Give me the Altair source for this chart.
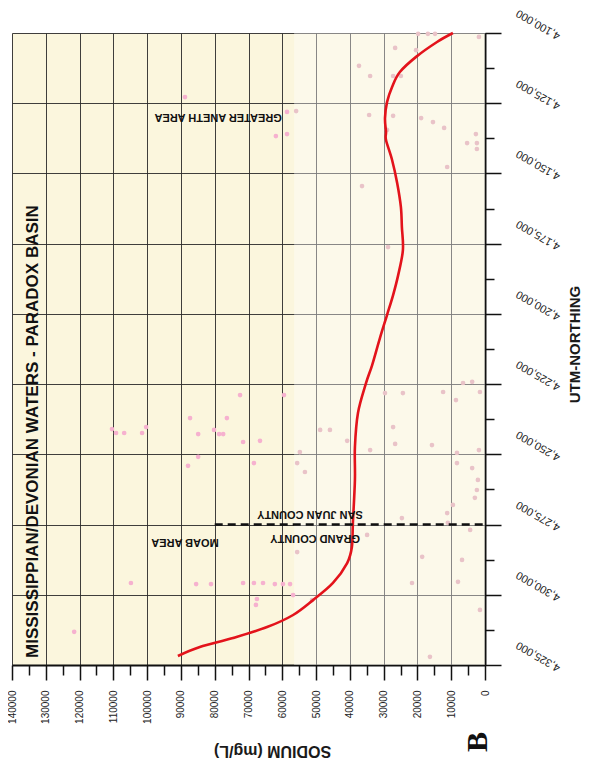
import altair as alt
import pandas as pd

# ---- data ----
curve_sodium = [9500, 14200, 20400, 25200, 27500, 29000, 29600, 29300, 29300, 27500, 26000, 24900,
                24600, 24300, 25700, 27200, 29000, 31100, 33400, 35200, 37600, 38500, 38500, 39100,
                39400, 40800, 45000, 50900, 56800, 64500, 74600, 84400, 90900]
curve_utm = [4100000, 4103200, 4108500, 4113900, 4119200, 4124600, 4130300, 4135200, 4138100, 4145200,
             4153400, 4161900, 4169100, 4177300, 4186200, 4193300, 4200400, 4208600, 4218200, 4224600,
             4235300, 4247400, 4259100, 4274400, 4283000, 4288700, 4295800, 4301900, 4307200, 4311500,
             4315400, 4318600, 4321800]

point_sodium = [19800, 16900, 14800, 1800, 26600, 20400, 37300, 34000, 27200, 24900, 55900, 58600,
                58600, 61900, 88800, 34300, 27200, 18900, 15400, 12100, 29000, 2700, 5300, 2400,
                2400, 11200, 36400, 28700, 3800,
                110400, 109200, 106800, 101500, 100300, 87300, 84900, 80200, 78700, 77500, 76400,
                72500, 59500, 71600, 66600, 84900, 87900, 68400,
                104800, 85500, 81100, 71600, 68400, 65700, 62200, 59800, 57700, 67500, 67800, 56800,
                121600,
                29600, 24300, 12400, 6500, 8600, 1500, 45900, 48800, 40800, 27200, 26600, 15700,
                34000, 54800, 55600, 53300, 8300, 1800, 8300, 3800, 2100, 2400, 3000, 9500, 11200,
                24600, 11000, 4400, 34900, 55600, 18600, 6800, 8000, 21600, 51200, 1500, 16300]
point_utm = [4100300, 4100300, 4100300, 4101400, 4105300, 4106100, 4111700, 4115300, 4115300, 4115300,
             4127800, 4128100, 4136000, 4136700, 4122800, 4129200, 4129500, 4130300, 4131700, 4133800,
             4134500, 4136000, 4139200, 4139200, 4141300, 4147700, 4154500, 4176200, 4224200,
             4241000, 4242400, 4242400, 4242400, 4240300, 4237100, 4242800, 4241300, 4242800, 4242800,
             4237100, 4228900, 4228900, 4245600, 4245200, 4250900, 4254100, 4253100,
             4295800, 4296200, 4296200, 4295800, 4295800, 4295800, 4296200, 4296200, 4296200, 4301500,
             4303600, 4300100, 4313200,
             4228200, 4228200, 4227800, 4224600, 4230700, 4227800, 4241300, 4241300, 4245200, 4240300,
             4246300, 4246700, 4248500, 4249200, 4253100, 4256300, 4249500, 4248500, 4253100, 4254900,
             4259100, 4262700, 4265500, 4268000, 4270900, 4272700, 4274400, 4276900, 4278700, 4284800,
             4286500, 4287600, 4295400, 4295800, 4301900, 4305400, 4322100]

area_labels = ["GREATER ANETH AREA", "MOAB AREA", "SAN JUAN COUNTY", "GRAND COUNTY"]
area_sodium = [79000, 88800, 51800, 50300]
area_utm = [4129900, 4281200, 4271200, 4279800]

county_line_sodium = [80000]
county_line_sodium2 = [0]
county_line_utm = [4275000]

title_text = ["MISSISSIPPIAN/DEVONIAN WATERS - PARADOX BASIN"]
title_sodium = [133900]
title_utm = [4322500]

panel_letter = ["B"]
panel_sodium = [2000]
panel_utm = [4352400]

x_ticks = list(range(0, 140001, 5000))
y_ticks = list(range(4100000, 4325001, 12500))

FONT = "Liberation Sans"

xs = alt.Scale(domain=[0, 140000], reverse=True, nice=False, zero=False)
ys = alt.Scale(domain=[4100000, 4325000], reverse=True, nice=False, zero=False)

x_axis = alt.Axis(
    values=x_ticks, orient="bottom",
    title="SODIUM (mg/L)", titleAngle=180, titleX=260, titleY=85,
    titleAlign="center", titleBaseline="middle",
    titleFont=FONT, titleFontSize=16, titleFontWeight="bold", titleColor="#1a1a1a",
    labelExpr="datum.value % 10000 === 0 ? format(datum.value, 'd') : ''",
    labelAngle=270, labelAlign="right", labelBaseline="middle", labelPadding=10,
    labelFont=FONT, labelFontSize=10, labelColor="#222", labelOverlap=False, labelFlush=False,
    tickSize={"condition": {"test": "datum.value % 10000 === 0", "value": 15}, "value": 10},
    tickColor="#111", tickWidth=1.5, domainColor="#111", domainWidth=2,
    grid=True, gridColor="#2a2a2a", gridWidth=1,
    gridOpacity={"condition": {"test": "datum.value % 10000 === 0", "value": 0.9}, "value": 0},
)
y_axis = alt.Axis(
    values=y_ticks, orient="right",
    title="UTM-NORTHING", titleAngle=270, titleX=89, titleY=311,
    titleAlign="center", titleBaseline="middle",
    titleFont=FONT, titleFontSize=15, titleFontWeight="bold", titleColor="#1a1a1a",
    labelExpr="datum.value % 25000 === 0 ? format(datum.value, ',') : ''",
    labelAngle=210, labelAlign="left", labelBaseline="middle", labelPadding=58, labelOffset=3,
    labelFont=FONT, labelFontSize=11, labelColor="#222", labelOverlap=False, labelFlush=False,
    tickSize={"condition": {"test": "datum.value % 25000 === 0", "value": 16}, "value": 9},
    tickColor="#111", tickWidth=1.5, domainColor="#111", domainWidth=2,
    grid=True, gridColor="#2a2a2a", gridWidth=1,
    gridOpacity={"condition": {"test": "datum.value % 25000 === 0", "value": 0.9}, "value": 0},
)


def X(field):
    return alt.X(field, type="quantitative", scale=xs, axis=x_axis)


def Y(field):
    return alt.Y(field, type="quantitative", scale=ys, axis=y_axis)


# lighter right band of the scanned page (semi-transparent so the grid shows through)
bg_df = pd.DataFrame({"s1": [56500], "s2": [0], "u1": [4100000], "u2": [4325000]})
bg = alt.Chart(bg_df).mark_rect(color="#ffffff", opacity=0.38).encode(
    x=X("s1"), x2="s2", y=Y("u1"), y2="u2")

pts_df = pd.DataFrame({"sodium": point_sodium, "utm": point_utm})
points = alt.Chart(pts_df).mark_circle(size=22, opacity=1).encode(
    x=X("sodium"), y=Y("utm"),
    color=alt.condition("datum.sodium > 56500", alt.value("#f6b1cf"), alt.value("#e9c3c8")),
)

curve_df = pd.DataFrame({"sodium": curve_sodium, "utm": curve_utm})
curve = alt.Chart(curve_df).mark_line(color="#e3131b", strokeWidth=2.6, interpolate="cardinal").encode(
    x=X("sodium"), y=Y("utm"), order="utm:Q",
)

line_df = pd.DataFrame({"s1": county_line_sodium, "s2": county_line_sodium2, "u": county_line_utm})
county = alt.Chart(line_df).mark_rule(color="#111", strokeWidth=2.5, strokeDash=[8, 5]).encode(
    x=X("s1"), x2="s2", y=Y("u"),
)

lab_df = pd.DataFrame({"text": area_labels, "sodium": area_sodium, "utm": area_utm})
labels = alt.Chart(lab_df).mark_text(
    font=FONT, fontSize=11, fontWeight="bold", angle=180, align="center", baseline="middle", color="#111"
).encode(x=X("sodium"), y=Y("utm"), text="text:N")

t_df = pd.DataFrame({"text": title_text, "sodium": title_sodium, "utm": title_utm})
title = alt.Chart(t_df).mark_text(
    font=FONT, fontSize=17, fontWeight="bold", angle=270, align="left", baseline="middle", color="#111"
).encode(x=X("sodium"), y=Y("utm"), text="text:N")

b_df = pd.DataFrame({"text": panel_letter, "sodium": panel_sodium, "utm": panel_utm})
bmark = alt.Chart(b_df).mark_text(
    font="Liberation Serif", fontSize=30, fontWeight="bold", angle=270, align="center",
    baseline="middle", color="#111"
).encode(x=X("sodium"), y=Y("utm"), text="text:N")

chart = alt.layer(bg, points, curve, county, labels, title, bmark).properties(
    width=473, height=632,
    autosize=alt.AutoSizeParams(type="none"),
    padding={"left": 4, "top": 25, "right": 96, "bottom": 105},
).configure_view(fill="#fbf6dd", stroke=None)

chart.save("out.html", embed_options={"renderer": "svg", "actions": False})
